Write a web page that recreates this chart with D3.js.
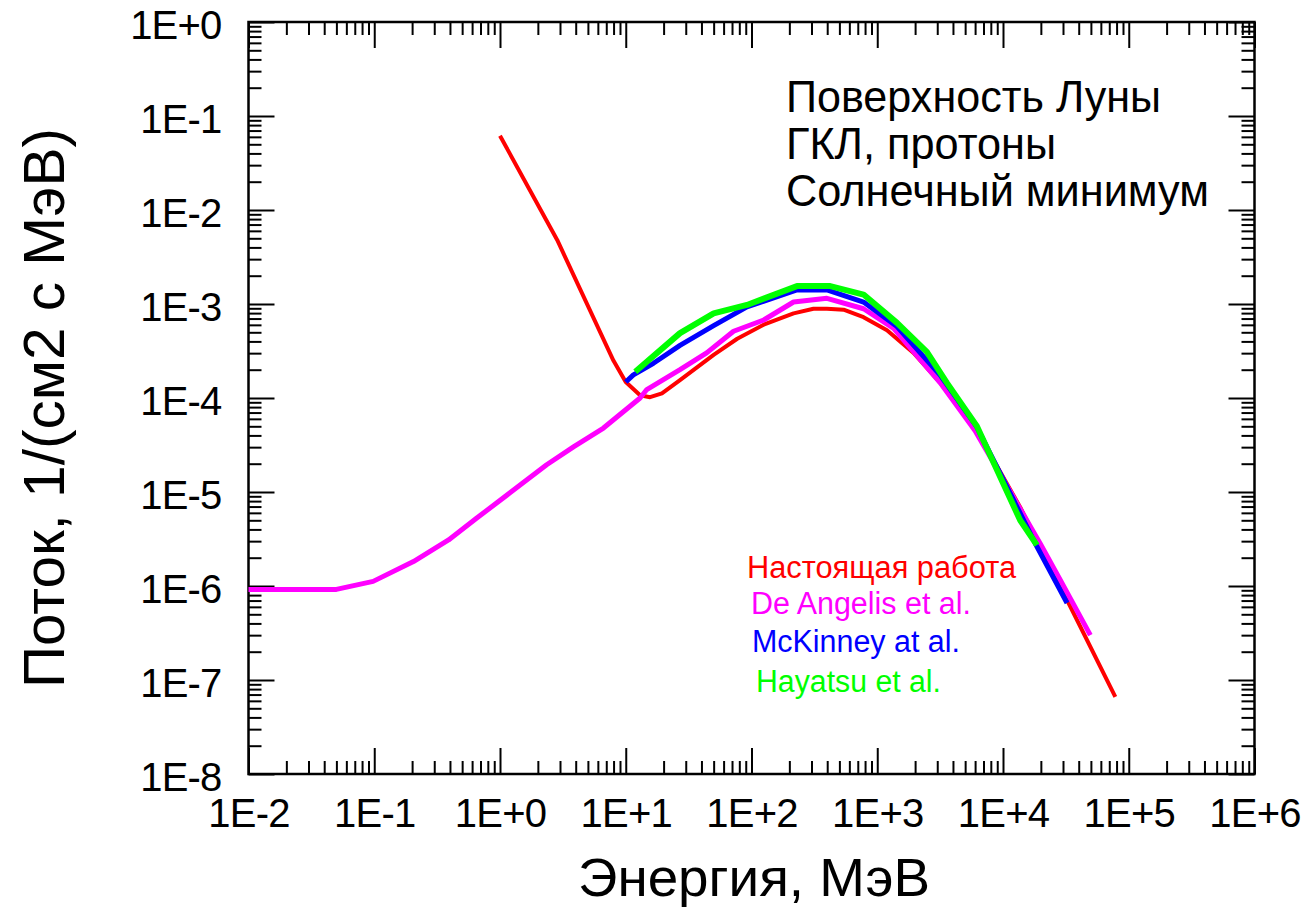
<!DOCTYPE html>
<html>
<head>
<meta charset="utf-8">
<script src="https://cdn.jsdelivr.net/npm/d3@7"></script>
<style>
  body { margin: 0; background: #fff; }
  svg { display: block; font-family: "Liberation Sans", Arial, sans-serif; }
</style>
</head>
<body>
<svg width="1310" height="912"></svg>
<script>
// ---- data (energy in MeV, flux in 1/(cm2 s MeV)) ----
var redE = [1, 2.85, 7.98, 10, 13, 15.6, 19.4, 27, 50, 77, 125, 216, 311, 398, 540, 778, 1195, 1944, 3170, 6590, 13700, 32300, 78200];
var redF = [0.0617, 4.8e-3, 2.5e-4, 1.48e-4, 1.07e-4, 1.02e-4, 1.12e-4, 1.55e-4, 2.88e-4, 4.27e-4, 6.03e-4, 7.94e-4, 8.9e-4, 8.9e-4, 8.7e-4, 7.24e-4, 5.25e-4, 3.02e-4, 1.45e-4, 3.9e-5, 6.9e-6, 7.1e-7, 6.6e-8];

var magE = [0.01, 0.05, 0.098, 0.205, 0.39, 0.65, 1.2, 2.35, 3.84, 6.65, 13, 14.7, 27, 44, 72, 125, 216, 398, 778, 1350, 3170, 6000, 19800, 28600, 49500];
var magF = [9.2e-7, 9.2e-7, 1.12e-6, 1.82e-6, 3.09e-6, 5.25e-6, 9.8e-6, 1.95e-5, 3.02e-5, 4.79e-5, 1.0e-4, 1.23e-4, 2.0e-4, 3.02e-4, 5.13e-4, 6.76e-4, 1.05e-3, 1.15e-3, 8.9e-4, 5.5e-4, 1.45e-4, 4.47e-5, 2.82e-6, 1.15e-6, 3.0e-7];

var blueE = [10, 11.5, 16.6, 27, 50, 92, 230, 398, 778, 1436, 3170, 6200, 18600, 32300];
var blueF = [1.48e-4, 1.76e-4, 2.34e-4, 3.63e-4, 5.89e-4, 9.33e-4, 1.41e-3, 1.41e-3, 1.05e-3, 5.75e-4, 1.74e-4, 4.9e-5, 2.63e-6, 6.6e-7];

var greenE = [11.9, 27, 50, 92, 230, 423, 778, 1436, 2480, 3580, 6200, 13700, 18600];
var greenF = [1.9e-4, 4.9e-4, 7.94e-4, 9.77e-4, 1.55e-3, 1.55e-3, 1.26e-3, 6.3e-4, 3.09e-4, 1.45e-4, 5.0e-5, 5.0e-6, 2.72e-6];

var xTickLabels = ['1E-2', '1E-1', '1E+0', '1E+1', '1E+2', '1E+3', '1E+4', '1E+5', '1E+6'];
var yTickLabels = ['1E-8', '1E-7', '1E-6', '1E-5', '1E-4', '1E-3', '1E-2', '1E-1', '1E+0'];

var infoLines = ['Поверхность Луны', 'ГКЛ, протоны', 'Солнечный минимум'];
var legendNames = ['Настоящая работа', 'De Angelis et al.', 'McKinney at al.', 'Hayatsu et al.'];
var legendColors = ['#ff0000', '#ff00ff', '#0000ff', '#00ff00'];

var svg = d3.select('svg');

// plot frame
var plot = {l: 248.5, r: 1254.5, t: 22, b: 774};

var xScale = d3.scaleLog().domain([1e-2, 1e6]).range([plot.l, plot.r]);
var yScale = d3.scaleLog().domain([1e-8, 1]).range([plot.b, plot.t]);

var xMajor = d3.range(-2, 7).map(p => Math.pow(10, p));
var yMajor = d3.range(-8, 1).map(p => Math.pow(10, p));
var xMinor = [], yMinor = [];
xMajor.slice(0, -1).forEach(function(d) { for (var k = 2; k < 10; k++) xMinor.push(d * k); });
yMajor.slice(0, -1).forEach(function(d) { for (var k = 2; k < 10; k++) yMinor.push(d * k); });

var bigTick = 26, smallTick = 13;

function styleAxis(g) {
  g.select('.domain').remove();
  g.selectAll('line').attr('stroke', '#000').attr('stroke-width', 2);
  g.selectAll('text')
    .style('font-size', '40px')
    .style('letter-spacing', '-0.8px')
    .attr('fill', '#000');
}

// minor ticks, all four sides
[
  [d3.axisBottom(xScale), 'translate(0,' + plot.b + ')', xMinor],
  [d3.axisTop(xScale), 'translate(0,' + plot.t + ')', xMinor],
  [d3.axisLeft(yScale), 'translate(' + plot.l + ',0)', yMinor],
  [d3.axisRight(yScale), 'translate(' + plot.r + ',0)', yMinor]
].forEach(function(a) {
  svg.append('g')
    .attr('class', 'minor axis')
    .attr('transform', a[1])
    .call(a[0].tickValues(a[2]).tickSize(-smallTick).tickFormat(''))
    .call(styleAxis);
});

// major ticks with labels (bottom and left)
svg.append('g')
  .attr('class', 'x axis')
  .attr('transform', 'translate(0,' + plot.b + ')')
  .call(d3.axisBottom(xScale).tickValues(xMajor).tickSize(-bigTick).tickPadding(25)
    .tickFormat((d, i) => xTickLabels[i]))
  .call(styleAxis);

svg.append('g')
  .attr('class', 'y axis')
  .attr('transform', 'translate(' + plot.l + ',0)')
  .call(d3.axisLeft(yScale).tickValues(yMajor).tickSize(-bigTick).tickPadding(27)
    .tickFormat((d, i) => yTickLabels[i]))
  .call(styleAxis);

svg.selectAll('.y.axis text').attr('dy', '0.4em');

svg.append('g')
  .attr('transform', 'translate(0,' + plot.t + ')')
  .call(d3.axisTop(xScale).tickValues(xMajor).tickSize(-bigTick).tickFormat(''))
  .call(styleAxis);

svg.append('g')
  .attr('transform', 'translate(' + plot.r + ',0)')
  .call(d3.axisRight(yScale).tickValues(yMajor).tickSize(-bigTick).tickFormat(''))
  .call(styleAxis);

svg.append('rect')
  .attr('x', plot.l).attr('y', plot.t)
  .attr('width', plot.r - plot.l).attr('height', plot.b - plot.t)
  .attr('fill', 'none').attr('stroke', '#000').attr('stroke-width', 2.5);

// curves
var line = d3.line()
  .x(d => xScale(d[0]))
  .y(d => yScale(d[1]));

var series = [
  {e: redE, f: redF, color: legendColors[0], w: 4},
  {e: magE, f: magF, color: legendColors[1], w: 5},
  {e: blueE, f: blueF, color: legendColors[2], w: 5},
  {e: greenE, f: greenF, color: legendColors[3], w: 6}
];

svg.selectAll('path.curve')
  .data(series)
  .enter()
  .append('path')
  .attr('class', 'curve')
  .attr('d', s => line(s.e.map((e, i) => [e, s.f[i]])))
  .attr('fill', 'none')
  .attr('stroke', s => s.color)
  .attr('stroke-width', s => s.w)
  .attr('stroke-linejoin', 'round');

// info text block
var infoWidth = [375, 270, 423];
svg.selectAll('text.info')
  .data(infoLines)
  .enter()
  .append('text')
  .attr('class', 'info')
  .attr('x', 786)
  .attr('y', (d, i) => 112 + i * 47)
  .attr('textLength', (d, i) => infoWidth[i])
  .attr('lengthAdjust', 'spacingAndGlyphs')
  .style('font-size', '44px')
  .text(d => d);

// legend
var legendX = [747, 751, 752, 756];
var legendY = [578, 614, 652, 692];
var legendW = [269, 220, 208, 185];
svg.selectAll('text.legend')
  .data(legendNames)
  .enter()
  .append('text')
  .attr('class', 'legend')
  .attr('x', (d, i) => legendX[i])
  .attr('y', (d, i) => legendY[i])
  .attr('fill', (d, i) => legendColors[i])
  .attr('textLength', (d, i) => legendW[i])
  .attr('lengthAdjust', 'spacingAndGlyphs')
  .style('font-size', '31px')
  .text(d => d);

// axis titles
svg.append('text')
  .attr('x', 578)
  .attr('y', 896)
  .attr('textLength', 352)
  .attr('lengthAdjust', 'spacingAndGlyphs')
  .style('font-size', '54px')
  .text('Энергия, МэВ');

svg.append('text')
  .attr('transform', 'translate(64,688) rotate(-90)')
  .attr('textLength', 560)
  .attr('lengthAdjust', 'spacingAndGlyphs')
  .style('font-size', '58px')
  .text('Поток, 1/(см2 с МэВ)');
</script>
</body>
</html>
